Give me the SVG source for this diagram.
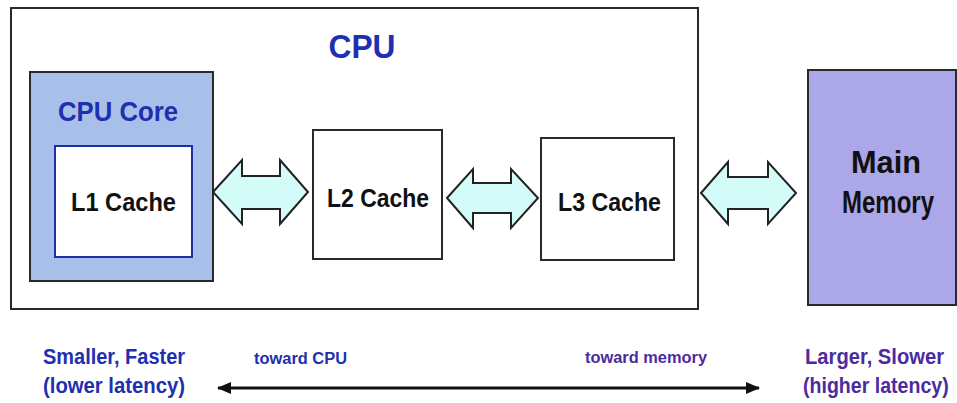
<svg xmlns="http://www.w3.org/2000/svg" width="957" height="403" viewBox="0 0 957 403">
<defs>
<style>
text{font-family:"Liberation Sans",Arial,sans-serif;font-weight:bold;}
.box{stroke:#2a2a2a;stroke-width:2;}
.blk{fill:#111;text-anchor:middle;}
.blue{fill:#1f2fb0;}
.purple{fill:#4b2ca0;}
.bus{fill:#d3fbf8;stroke:#222;stroke-width:2;stroke-linejoin:miter;}
</style>
<marker id="ah" viewBox="0 0 14 12" refX="13" refY="6" markerWidth="14" markerHeight="12" markerUnits="userSpaceOnUse" orient="auto-start-reverse">
<path d="M0,0 L14,6 L0,12 Z" fill="#111"/>
</marker>
</defs>
<rect width="957" height="403" fill="#ffffff"/>

<g id="cpu">
<rect class="box" x="11" y="8" width="687" height="301" fill="#ffffff"/>
<text x="362" y="58" font-size="34" class="blue" text-anchor="middle" textLength="67" lengthAdjust="spacingAndGlyphs">CPU</text>
</g>

<g id="cpu-core">
<rect class="box" x="30" y="72" width="183" height="209" fill="#a8bfea"/>
<text x="58" y="121" font-size="28" class="blue" textLength="120" lengthAdjust="spacingAndGlyphs">CPU Core</text>
</g>

<g id="l1">
<rect x="55" y="146" width="137" height="111" fill="#ffffff" stroke="#1c2fa8" stroke-width="2"/>
<text x="123.5" y="211" font-size="25" class="blk" textLength="105" lengthAdjust="spacingAndGlyphs">L1 Cache</text>
</g>

<g id="l2">
<rect class="box" x="313" y="130" width="129" height="129" fill="#ffffff"/>
<text x="378" y="207" font-size="26" class="blk" textLength="102" lengthAdjust="spacingAndGlyphs">L2 Cache</text>
</g>

<g id="l3">
<rect class="box" x="541" y="138" width="133" height="122" fill="#ffffff"/>
<text x="609.5" y="211" font-size="26" class="blk" textLength="103" lengthAdjust="spacingAndGlyphs">L3 Cache</text>
</g>

<g id="main-memory">
<rect class="box" x="808" y="70" width="148" height="235" fill="#aba7e8"/>
<text x="886" y="173" font-size="32" class="blk" textLength="70" lengthAdjust="spacingAndGlyphs">Main</text>
<text transform="translate(888,213) scale(0.75,1)" x="0" y="0" font-size="32" class="blk">Memory</text>
</g>

<g id="connectors">
<polygon class="bus" points="213,192 242,160 242,176 280,176 280,160 308,192 280,224 280,209 242,209 242,224"/>
<polygon class="bus" points="447,198 473,169 473,183 511,183 511,169 538,198 511,228 511,213 473,213 473,228"/>
<polygon class="bus" points="701,193 728,162 728,177 768,177 768,162 796,193 768,224 768,209 728,209 728,224"/>
<line x1="218" y1="388" x2="759" y2="388" stroke="#111" stroke-width="3" marker-start="url(#ah)" marker-end="url(#ah)"/>
</g>

<g id="labels">
<text x="43" y="364" font-size="22" class="blue" textLength="142" lengthAdjust="spacingAndGlyphs">Smaller, Faster</text>
<text x="43" y="393" font-size="22" class="blue" textLength="142" lengthAdjust="spacingAndGlyphs">(lower latency)</text>
<text x="254" y="364" font-size="16" class="blue" textLength="93" lengthAdjust="spacingAndGlyphs">toward CPU</text>
<text x="585" y="363" font-size="16" class="purple" textLength="122" lengthAdjust="spacingAndGlyphs">toward memory</text>
<text x="805" y="364" font-size="22" class="purple" textLength="139" lengthAdjust="spacingAndGlyphs">Larger, Slower</text>
<text transform="translate(803,393) scale(0.89,1)" x="0" y="0" font-size="22" class="purple">(higher latency)</text>
</g>
</svg>
